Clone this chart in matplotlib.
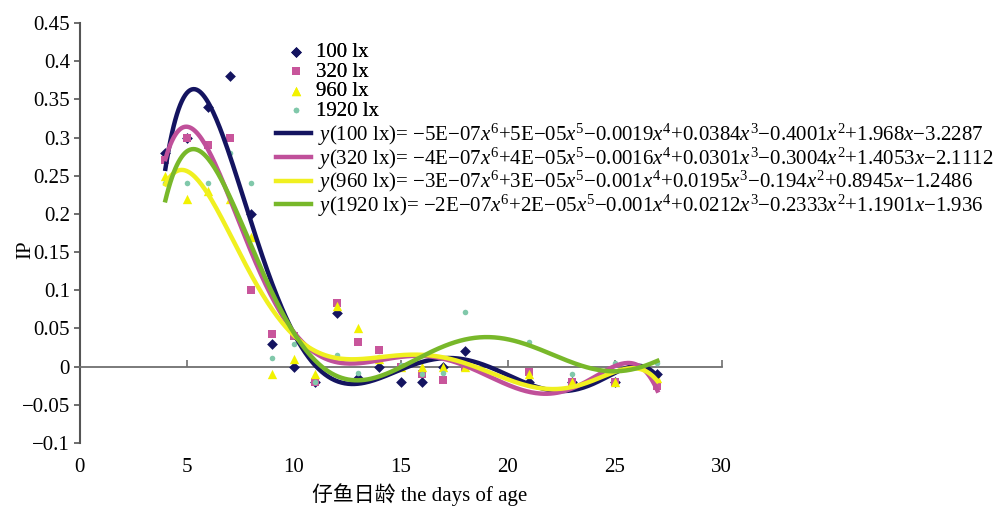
import matplotlib
matplotlib.use("Agg")
import matplotlib.pyplot as plt
import numpy as np

plt.rcParams['font.family'] = ['Liberation Serif', 'Noto Sans CJK SC']
plt.rcParams['mathtext.fontset'] = 'custom'
plt.rcParams['mathtext.rm'] = 'Liberation Serif'
plt.rcParams['mathtext.it'] = 'Liberation Serif:italic'
plt.rcParams['axes.unicode_minus'] = True

# Data
days = [4, 5, 6, 7, 8, 9, 10, 11, 12, 13, 14, 15, 16, 17, 18, 21, 23, 25, 27]
ip_100 = [0.28, 0.30, 0.34, 0.38, 0.20, 0.03, 0.0, -0.02, 0.07, -0.015, 0.0,
          -0.02, -0.02, 0.0, 0.02, -0.02, -0.02, -0.02, -0.01]
ip_320 = [0.27, 0.30, 0.29, 0.30, 0.10, 0.043, 0.04, -0.02, 0.083, 0.032, 0.022,
          0.0, -0.01, -0.018, 0.0, -0.007, -0.02, -0.02, -0.025]
ip_960 = [0.25, 0.22, 0.23, 0.22, 0.17, -0.01, 0.01, -0.01, 0.08, 0.05, 0.01,
          0.0, 0.0, 0.0, 0.0, -0.01, -0.02, -0.02, -0.015]
ip_1920 = [0.24, 0.24, 0.24, 0.28, 0.24, 0.012, 0.03, -0.02, 0.015, -0.008, 0.013,
           0.002, -0.009, -0.008, 0.071, 0.032, -0.01, 0.005, 0.005]

labels = ['100 lx', '320 lx', '960 lx', '1920 lx']
equations = [
    r'$\mathit{y}$(100 lx)= −5E−07$\mathit{x}^6$+5E−05$\mathit{x}^5$−0.0019$\mathit{x}^4$+0.0384$\mathit{x}^3$−0.4001$\mathit{x}^2$+1.968$\mathit{x}$−3.2287',
    r'$\mathit{y}$(320 lx)= −4E−07$\mathit{x}^6$+4E−05$\mathit{x}^5$−0.0016$\mathit{x}^4$+0.0301$\mathit{x}^3$−0.3004$\mathit{x}^2$+1.4053$\mathit{x}$−2.1112',
    r'$\mathit{y}$(960 lx)= −3E−07$\mathit{x}^6$+3E−05$\mathit{x}^5$−0.001$\mathit{x}^4$+0.0195$\mathit{x}^3$−0.194$\mathit{x}^2$+0.8945$\mathit{x}$−1.2486',
    r'$\mathit{y}$(1920 lx)= −2E−07$\mathit{x}^6$+2E−05$\mathit{x}^5$−0.001$\mathit{x}^4$+0.0212$\mathit{x}^3$−0.2333$\mathit{x}^2$+1.1901$\mathit{x}$−1.936',
]

point_colors = ['#141460', '#c8559b', '#f2f200', '#80c8aa']
line_colors = ['#141460', '#c0509a', '#f0f020', '#78b82a']
markers = ['D', 's', '^', 'o']
msizes = [30, 28, 45, 16]

fig = plt.figure(figsize=(9.98, 5.11), dpi=100)
ax = fig.add_axes([0.080, 0.133, 0.643, 0.822])

series = [ip_100, ip_320, ip_960, ip_1920]
scatters = []
for vals, c, m, s, lab in zip(series, point_colors, markers, msizes, labels):
    sc = ax.scatter(days, vals, marker=m, s=s, color=c, linewidths=0, label=lab, zorder=3)
    scatters.append(sc)

# 6th order polynomial trendlines, as in the original
xs = np.linspace(min(days), max(days), 300)
lines = []
for vals, c, eq in zip(series, line_colors, equations):
    coef = np.polyfit(days, vals, 6)
    ln, = ax.plot(xs, np.polyval(coef, xs), color=c, lw=3.2, label=eq, zorder=4)
    lines.append(ln)

ax.set_xlim(0, 30)
ax.set_ylim(-0.1, 0.45)
ax.set_xticks(np.arange(0, 31, 5))
ax.set_yticks(np.arange(-0.1, 0.451, 0.05))
ax.set_yticklabels(['−0.1', '−0.05', '0', '0.05', '0.1', '0.15', '0.2', '0.25',
                    '0.3', '0.35', '0.4', '0.45'])

ax.spines['top'].set_visible(False)
ax.spines['right'].set_visible(False)
ax.spines['bottom'].set_position(('data', 0))
ax.spines['bottom'].set_color('#707070')
ax.spines['left'].set_color('#555555')
ax.spines['left'].set_linewidth(1.5)
ax.spines['bottom'].set_linewidth(1.3)
ax.tick_params(axis='y', direction='out', length=4, width=1.2, color='#555555',
               labelsize=15, pad=3)
ax.tick_params(axis='x', direction='in', length=5, width=1.2, color='#707070',
               labelsize=15, pad=66)

ax.set_ylabel('IP', fontsize=15)
ax.yaxis.set_label_coords(-0.07, 0.46)
ax.set_xlabel('仔鱼日龄 the days of age', fontsize=15)
ax.xaxis.set_label_coords(0.53, -0.095)

leg1 = fig.legend(handles=scatters, loc='upper left',
                  bbox_to_anchor=(0.288, 0.917), frameon=False, fontsize=15,
                  borderpad=0, borderaxespad=0, labelspacing=0.0,
                  handlelength=0.8, handletextpad=0.55, scatterpoints=1)
leg2 = fig.legend(handles=lines, loc='upper left',
                  bbox_to_anchor=(0.2766, 0.762), frameon=False, fontsize=15,
                  borderpad=0, borderaxespad=0, labelspacing=-0.12,
                  handlelength=1.7, handletextpad=0.3)
fig.add_artist(leg1)

fig.savefig('out.png', dpi=100)
